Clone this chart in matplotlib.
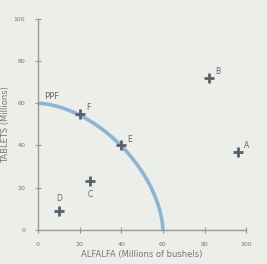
import numpy as np
import matplotlib.pyplot as plt

# points
labels = ['A', 'B', 'C', 'D', 'E', 'F']
alfalfa = [96, 82, 25, 10, 40, 20]
tablets = [37, 72, 23, 9, 40, 55]
lab_dx = [3, 3, 0, 0, 3, 3]
lab_dy = [3, 3, -6, 6, 3, 3]

# PPF: bowed-out curve from (0, 60) to (60, 0), passes through E and F
ppf_x_max = 60
ppf_y_max = 60
ppf_power = 1.7

t = np.linspace(0, np.pi / 2, 300)
px = ppf_x_max * np.sin(t) ** (2 / ppf_power)
py = ppf_y_max * np.cos(t) ** (2 / ppf_power)

fig = plt.figure(figsize=(2.67, 2.64), dpi=100)
fig.patch.set_facecolor('#eceeea')
ax = fig.add_axes([0.142, 0.129, 0.78, 0.8])
ax.set_facecolor('#eceeea')

ax.plot(px, py, color='#8db4d2', lw=2.6, solid_capstyle='butt')
ax.text(3, 62, 'PPF', fontsize=6, color='#666666')

ax.plot(alfalfa, tablets, ls='none', marker='+', ms=7, mew=2, color='#5a5f6d')
for x, y, s, dx, dy in zip(alfalfa, tablets, labels, lab_dx, lab_dy):
    ax.text(x + dx, y + dy, s, fontsize=5.5, color='#666666',
            ha='center' if dx == 0 else 'left', va='center')

ax.set_xlim(0, 100)
ax.set_ylim(0, 100)
ax.set_xticks(np.arange(0, 101, 20))
ax.set_yticks(np.arange(0, 101, 20))
for side in ['top', 'right']:
    ax.spines[side].set_visible(False)
for side in ['left', 'bottom']:
    ax.spines[side].set_color('#999999')
    ax.spines[side].set_linewidth(1)
ax.tick_params(direction='inout', length=4, width=0.8, color='#999999',
               labelsize=4.5, labelcolor='#777777', pad=7)
ax.set_xlabel('ALFALFA (Millions of bushels)', fontsize=6, color='#777777', labelpad=2)
ax.set_ylabel('TABLETS (Millions)', fontsize=6, color='#777777', labelpad=3)

fig.savefig('out.png', dpi=100, facecolor=fig.get_facecolor())
